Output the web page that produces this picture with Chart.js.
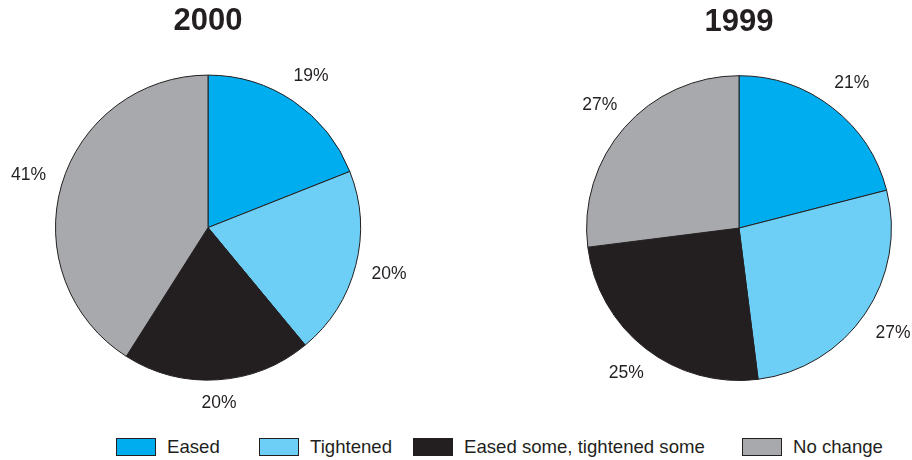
<!DOCTYPE html>
<html>
<head>
<meta charset="utf-8">
<script src="https://cdn.jsdelivr.net/npm/chart.js@4/dist/chart.umd.min.js"></script>
<style>
  body { margin: 0; background: #fff; width: 912px; height: 460px; position: relative; overflow: hidden; }
  canvas { position: absolute; top: 0; }
  #legend { position: absolute; top: 438px; left: 0; font-family: "Liberation Sans", Arial, sans-serif; font-size: 18.6px; color: #231F20; }
  .item { position: absolute; top: 0; white-space: nowrap; height: 18px; line-height: 18px; }
  .item span.box { position: absolute; left: 0; top: 0; width: 38px; height: 16px; border: 1px solid #231F20; }
  .item span.txt { position: absolute; left: 51px; top: 0; }
</style>
</head>
<body>
<canvas id="pie2000" width="416" height="430" style="left:0px"></canvas>
<canvas id="pie1999" width="380" height="430" style="left:549px"></canvas>
<div id="legend"></div>
<script>
// Data
let categories = ["Eased", "Tightened", "Eased some, tightened some", "No change"];
let values2000 = [19, 20, 20, 41];
let values1999 = [21, 27, 25, 27];
let colorPalette = ["#00AEEF", "#6DCFF6", "#231F20", "#A7A9AC"];
let legendLeft = [116, 259, 413, 742];

const fontFamily = '"Liberation Sans", Arial, sans-serif';

// percent labels drawn just outside each slice
const outsideLabels = {
  id: "outsideLabels",
  afterDatasetsDraw(chart) {
    const ctx = chart.ctx;
    const meta = chart.getDatasetMeta(0);
    const data = chart.data.datasets[0].data;
    ctx.save();
    ctx.font = "17.5px " + fontFamily;
    ctx.fillStyle = "#231F20";
    ctx.textAlign = "center";
    ctx.textBaseline = "middle";
    meta.data.forEach((arc, i) => {
      const p = arc.getProps(["x", "y", "startAngle", "endAngle", "outerRadius"], true);
      const mid = (p.startAngle + p.endAngle) / 2;
      const txt = data[i] + "%";
      const halfW = ctx.measureText(txt).width / 2;
      const r = p.outerRadius + 16 + Math.abs(Math.cos(mid)) * halfW + Math.abs(Math.sin(mid)) * 6;
      ctx.fillText(txt, p.x + Math.cos(mid) * r, p.y + Math.sin(mid) * r);
    });
    ctx.restore();
  }
};

function makePie(id, title, values, padding) {
  new Chart(document.getElementById(id).getContext("2d"), {
    type: "pie",
    data: {
      labels: categories,
      datasets: [{
        data: values,
        backgroundColor: colorPalette,
        borderColor: "#231F20",
        borderWidth: 1
      }]
    },
    options: {
      responsive: false,
      animation: false,
      layout: { padding: padding },
      plugins: {
        legend: { display: false },
        tooltip: { enabled: false },
        title: {
          display: true,
          text: title,
          color: "#231F20",
          font: { family: fontFamily, size: 31, weight: "bold", lineHeight: 1.2 },
          padding: { top: 0, bottom: 34 }
        }
      }
    },
    plugins: [outsideLabels]
  });
}

makePie("pie2000", "2000", values2000, { left: 55, right: 55, top: 3, bottom: 49 });
makePie("pie1999", "1999", values1999, { left: 37, right: 37, top: 4, bottom: 49 });

// legend
const legend = document.getElementById("legend");
categories.forEach((c, i) => {
  const item = document.createElement("div");
  item.className = "item";
  item.style.left = legendLeft[i] + "px";
  item.innerHTML = '<span class="box" style="background:' + colorPalette[i] + '"></span><span class="txt">' + c + '</span>';
  legend.appendChild(item);
});
</script>
</body>
</html>
